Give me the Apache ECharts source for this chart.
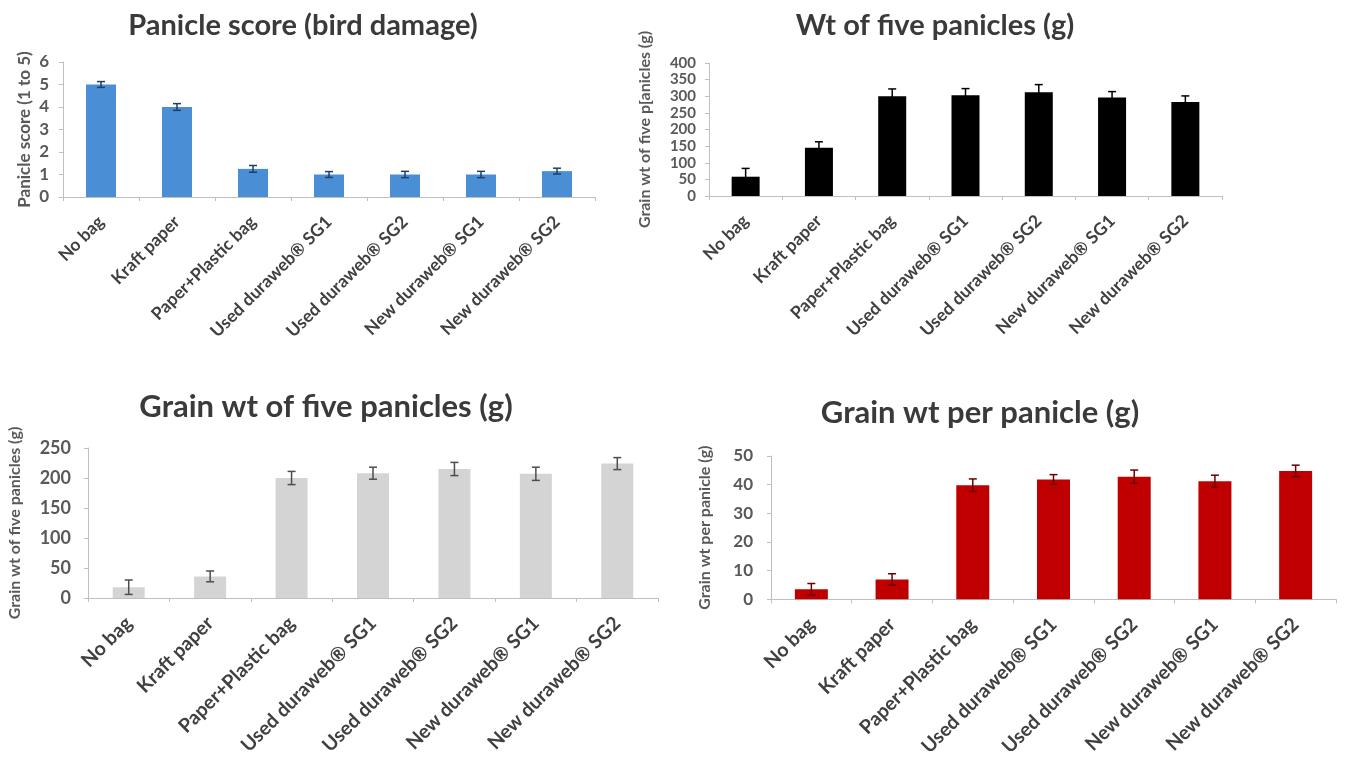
<!DOCTYPE html>
<html>
<head>
<meta charset="utf-8">
<script src="https://cdn.jsdelivr.net/npm/echarts@6/dist/echarts.min.js"></script>
<style>
html,body{margin:0;padding:0;background:#fff;}
#chart{width:1347px;height:759px;}
</style>
</head>
<body>
<div id="chart"></div>
<script>
// ---- data ----
const categories = ["No bag", "Kraft paper", "Paper+Plastic bag", "Used duraweb\u00ae SG1", "Used duraweb\u00ae SG2", "New duraweb\u00ae SG1", "New duraweb\u00ae SG2"];

const panicleScore = [5.0, 4.0, 1.25, 1.0, 1.0, 1.0, 1.15];
const panicleScoreErr = [0.13, 0.15, 0.15, 0.13, 0.14, 0.14, 0.13];

const wtFivePanicles = [58, 145, 300, 303, 312, 296, 283];
const wtFivePaniclesErr = [25, 18, 22, 20, 23, 18, 18];

const grainWtFive = [18, 36, 200, 208, 215, 207, 224];
const grainWtFiveErr = [12, 9, 11, 10, 11, 11, 10];

const grainWtPer = [3.5, 6.9, 39.8, 41.8, 42.8, 41.2, 44.8];
const grainWtPerErr = [2, 2, 2.2, 1.7, 2.3, 2.1, 2];

const titles = ["Panicle score (bird damage)", "Wt of five panicles (g)", "Grain wt of five panicles (g)", "Grain wt per panicle (g)"];
const yNames = ["Panicle score (1 to 5)", "Grain wt of five p[anicles (g)", "Grain wt of five panicles (g)", "Grain wt per panicle (g)"];
const yMax = [6, 400, 250, 50];
const yInterval = [1, 50, 50, 10];

// ---- layout / style ----
const FONT = "Lato, 'Open Sans', sans-serif";
const grids = [
  {left: 63, top: 62, width: 532, height: 135},
  {left: 709, top: 63, width: 513, height: 133},
  {left: 88, top: 448, width: 570, height: 150},
  {left: 771, top: 456, width: 565, height: 146}
];
const barColors = ["#4a8fd6", "#000000", "#d4d4d4", "#c00000"];
const errColors = ["#1f3f66", "#000000", "#4d4d4d", "#6b0000"];
const barWidths = [30, 28, 32, 33];
const nameGaps = [30, 56, 65, 58];
const nameSizes = [17, 16, 16, 16];
const tickSizes = [17, 15, 18, 17];
const tickMargins = [14, 13, 17, 18];
const xLabelSizes = [17.5, 17.5, 19.5, 19.5];
const xLabelMargins = [22, 22, 22, 22];
const titlePos = [
  {left: 298, top: 6, size: 29},
  {left: 930, top: 6, size: 29},
  {left: 321, top: 386, size: 31},
  {left: 975, top: 392, size: 31}
];

const values = [panicleScore, wtFivePanicles, grainWtFive, grainWtPer];
const errs = [panicleScoreErr, wtFivePaniclesErr, grainWtFiveErr, grainWtPerErr];

const chart = echarts.init(document.getElementById('chart'));

const option = {
  backgroundColor: '#ffffff',
  animation: false,
  title: titles.map((t, i) => ({
    text: t,
    left: titlePos[i].left,
    top: titlePos[i].top,
    textAlign: 'center',
    textStyle: {fontFamily: FONT, fontWeight: 'bold', fontSize: titlePos[i].size, color: '#3a3a3a'}
  })),
  grid: grids.map(g => Object.assign({containLabel: false}, g)),
  xAxis: grids.map((g, i) => ({
    type: 'category',
    gridIndex: i,
    data: categories,
    axisLine: {show: true, lineStyle: {color: '#bfbfbf', width: 1}},
    axisTick: {show: true, length: 4, alignWithLabel: false, lineStyle: {color: '#bfbfbf'}},
    axisLabel: {
      rotate: 45, interval: 0, margin: xLabelMargins[i], hideOverlap: false,
      fontFamily: FONT, fontWeight: 'bold', fontSize: xLabelSizes[i], color: '#404040'
    }
  })),
  yAxis: grids.map((g, i) => ({
    type: 'value',
    gridIndex: i,
    min: 0,
    max: yMax[i],
    interval: yInterval[i],
    name: yNames[i],
    nameLocation: 'middle',
    nameGap: nameGaps[i],
    nameRotate: 90,
    nameTextStyle: {fontFamily: FONT, fontWeight: 'bold', fontSize: nameSizes[i], color: '#595959'},
    axisLine: {show: true, lineStyle: {color: '#bfbfbf', width: 1}},
    axisTick: {show: true, length: 4, lineStyle: {color: '#bfbfbf'}},
    axisLabel: {
      fontFamily: FONT, fontWeight: 'bold', fontSize: tickSizes[i], color: '#595959',
      margin: tickMargins[i], hideOverlap: false, showMinLabel: true, showMaxLabel: true
    },
    splitLine: {show: false}
  })),
  series: []
};

values.forEach((vals, i) => {
  option.series.push({
    type: 'bar',
    xAxisIndex: i,
    yAxisIndex: i,
    data: vals,
    barWidth: barWidths[i],
    itemStyle: {color: barColors[i]},
    z: 2
  });
  option.series.push({
    type: 'custom',
    xAxisIndex: i,
    yAxisIndex: i,
    z: 3,
    data: vals.map((v, k) => [k, v, errs[i][k]]),
    encode: {x: 0, y: 1},
    renderItem: function (params, api) {
      const x = api.value(0), y = api.value(1), e = api.value(2);
      const hi = api.coord([x, y + e]);
      const lo = api.coord([x, Math.max(0, y - e)]);
      const hw = 4;
      const st = {stroke: errColors[i], lineWidth: 1.5};
      return {
        type: 'group',
        children: [
          {type: 'line', shape: {x1: hi[0], y1: hi[1], x2: lo[0], y2: lo[1]}, style: st},
          {type: 'line', shape: {x1: hi[0] - hw, y1: hi[1], x2: hi[0] + hw, y2: hi[1]}, style: st},
          {type: 'line', shape: {x1: lo[0] - hw, y1: lo[1], x2: lo[0] + hw, y2: lo[1]}, style: st}
        ]
      };
    }
  });
});

chart.setOption(option);
</script>
</body>
</html>
